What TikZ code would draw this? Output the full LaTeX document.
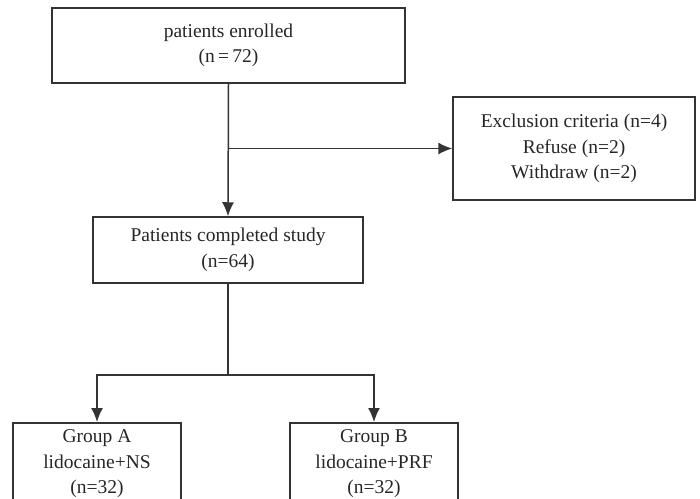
\documentclass[tikz,border=0pt]{standalone}
\usepackage{fontspec}
\setmainfont{Liberation Serif}
\usetikzlibrary{arrows.meta}

\begin{document}
\begin{tikzpicture}[x=1pt, y=-1pt,
  box/.style={draw=black!80, line width=1.5pt, align=center, text=black!85,
    font=\fontsize{19.5}{25.5}\selectfont},
  flow/.style={draw=black!80, line width=1.5pt, arrows={-Latex[length=14pt,width=12pt]}}]
\useasboundingbox (0,0) rectangle (700,498);
\clip (0,0) rectangle (700,498);
\node[box, minimum width=353pt, minimum height=75pt] at (228.5,45.5) (enrolled) {patients enrolled\\(n\,=\,72)};
\node[box, minimum width=242pt, minimum height=103pt] at (574,148.5) (excl) {Exclusion criteria (n=4)\\Refuse (n=2)\\Withdraw (n=2)};
\node[box, minimum width=270pt, minimum height=66pt] at (228,250) (completed) {Patients completed study\\(n=64)};
\node[box, minimum width=168pt, anchor=north, inner ysep=7pt] at (97,422) (groupA) {Group A\\lidocaine+NS\\(n=32)};
\node[box, minimum width=168pt, anchor=north, inner ysep=7pt] at (374,422) (groupB) {Group B\\lidocaine+PRF\\(n=32)};
\coordinate (split) at (enrolled.south |- excl.west);
\coordinate (fork) at (228,375);
\draw[flow] (enrolled.south) -- (completed.north);
\draw[flow] (split) -- (excl.west);
%two groups
\draw[flow] (completed.south) -- (fork) -| (groupA.north);
\draw[flow] (fork) -| (groupB.north);
\end{tikzpicture}
\end{document}
